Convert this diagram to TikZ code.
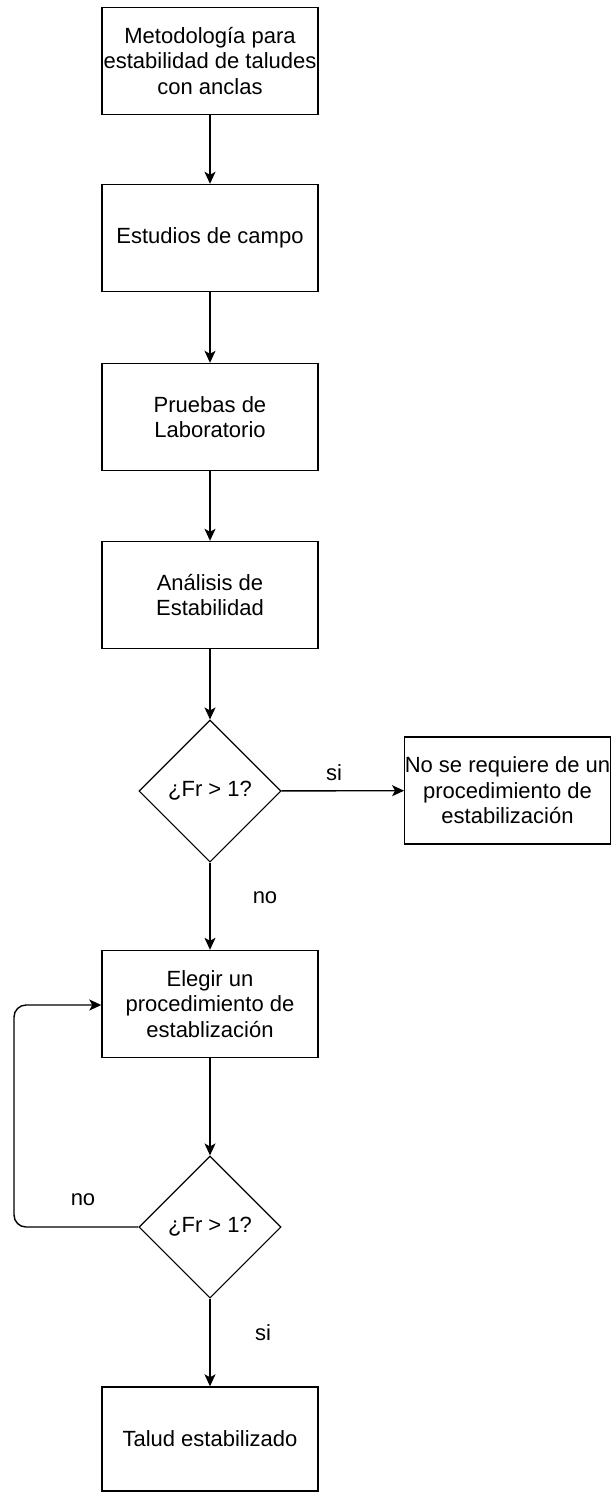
\documentclass[tikz,border=0pt]{standalone}
\usepackage{fontspec}
\setmainfont{Liberation Sans}
\usetikzlibrary{arrows.meta,shapes.geometric}
\begin{document}
\begin{tikzpicture}[x=1pt,y=-1pt,
  box/.style={draw, line width=1.4pt, minimum width=216pt, minimum height=107pt,
    align=center, inner sep=0pt, font=\fontsize{22}{25.5}\selectfont},
  dec/.style={draw, diamond, aspect=1, line width=1.1pt, minimum width=142pt,
    minimum height=142pt, inner sep=0pt, font=\fontsize{22}{25.5}\selectfont},
  arr/.style={-{Stealth[length=12pt,width=11pt,inset=3pt]}, line width=1.4pt},
  lab/.style={font=\fontsize{22}{25.5}\selectfont}]
\useasboundingbox (0,0) rectangle (612,1492);
\node[box] (b1) at (210,61) {Metodología para\\estabilidad de taludes\\con anclas};
\node[box] (b2) at (210,238) {Estudios de campo};
\node[box] (b3) at (210,417) {Pruebas de\\Laboratorio};
\node[box] (b4) at (210,595) {Análisis de\\Estabilidad};
\node[dec] (d1) at (210,791) {¿Fr > 1?};
\node[box, minimum width=205pt] (r) at (507.5,790.5) {No se requiere de un\\procedimiento de\\estabilización};
\node[box] (b5) at (210,1004) {Elegir un\\procedimiento de\\establización};
\node[dec] (d2) at (210,1227) {¿Fr > 1?};
\node[box, minimum height=104pt] (b6) at (210,1439) {Talud estabilizado};
\coordinate (lc) at (14,1005);
\draw[arr] (b1) -- (b2);
\draw[arr] (b2) -- (b3);
\draw[arr] (b3) -- (b4);
\draw[arr] (b4) -- (d1);
\draw[arr] (d1) -- (r);
\draw[arr] (d1) -- (b5);
\draw[arr] (b5) -- (d2);
\draw[arr] (d2) -- (b6);
\draw[arr, rounded corners=12pt] (d2.west) -| (lc) -- (b5.west |- lc);
\node[lab] (l1) at (334,773) {si};
\node[lab] (l2) at (265,898) {no};
\node[lab] (l3) at (83,1200) {no};
\node[lab] (l4) at (263,1333) {si};
\end{tikzpicture}
\end{document}
